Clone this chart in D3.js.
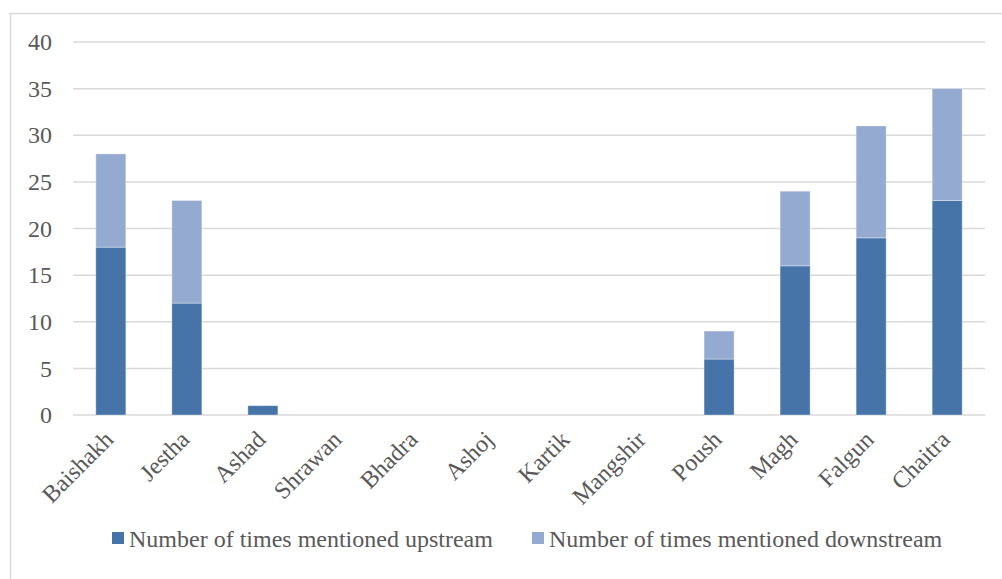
<!DOCTYPE html>
<html>
<head>
<meta charset="utf-8">
<script src="https://cdn.jsdelivr.net/npm/d3@7/dist/d3.min.js"></script>
<style>
  html, body { margin: 0; padding: 0; background: #fff; }
  svg { display: block; }
</style>
</head>
<body>
<svg id="chart" width="1002" height="579"></svg>
<script>
// Nepali months and mention counts
const months = ["Baishakh", "Jestha", "Ashad", "Shrawan", "Bhadra", "Ashoj",
                "Kartik", "Mangshir", "Poush", "Magh", "Falgun", "Chaitra"];
const upstream   = [18, 12, 1, 0, 0, 0, 0, 0, 6, 16, 19, 23];
const downstream = [10, 11, 0, 0, 0, 0, 0, 0, 3, 8, 12, 12];
const seriesNames = ["Number of times mentioned upstream", "Number of times mentioned downstream"];
const seriesColors = ["#4674a8", "#95aad1"];
const yTicks = [0, 5, 10, 15, 20, 25, 30, 35, 40];

const FONT = '"Liberation Serif", "Times New Roman", serif';
const FONT_SIZE = 24;
const TEXT_COLOR = "#595959";

const svg = d3.select("#chart");
const W = 1002, H = 579;
const margin = { left: 73, right: 1002 - 985, top: 42, bottom: 579 - 415 };

// chart frame (extends past the bottom/right of the view)
svg.append("rect")
  .attr("x", 10.5).attr("y", 13.5)
  .attr("width", 1200).attr("height", 800)
  .attr("fill", "none").attr("stroke", "#d9d9d9").attr("stroke-width", 1.5);

const x = d3.scaleBand()
  .domain(months)
  .range([margin.left, W - margin.right])
  .paddingInner(0.605)
  .paddingOuter(0.3);

const y = d3.scaleLinear()
  .domain([0, 40])
  .range([H - margin.bottom, margin.top]);

// gridlines
svg.append("g")
  .selectAll("line")
  .data(yTicks)
  .join("line")
  .attr("x1", margin.left).attr("x2", W - margin.right)
  .attr("y1", d => y(d)).attr("y2", d => y(d))
  .attr("stroke", "#d9d9d9").attr("stroke-width", 1.5);

// y axis labels
const yAxis = d3.axisLeft(y).tickValues(yTicks).tickSize(0).tickPadding(21);
const yg = svg.append("g").attr("transform", `translate(${margin.left},0)`).call(yAxis);
yg.attr("font-family", FONT).attr("font-size", FONT_SIZE);
yg.select(".domain").remove();
yg.selectAll("text").attr("fill", TEXT_COLOR);

// stacked bars
const rows = months.map((m, i) => ({ month: m, up: upstream[i], down: downstream[i] }));
const stack = d3.stack().keys(["up", "down"])(rows);

svg.append("g")
  .selectAll("g")
  .data(stack)
  .join("g")
  .attr("fill", (d, i) => seriesColors[i])
  .selectAll("rect")
  .data(d => d.filter(s => s[1] - s[0] > 0))
  .join("rect")
  .attr("x", d => x(d.data.month))
  .attr("width", x.bandwidth())
  .attr("y", d => y(d[1]))
  .attr("height", d => y(d[0]) - y(d[1]))
  .attr("stroke", "#ffffff").attr("stroke-opacity", 0.35).attr("stroke-width", 1);

// x axis labels, rotated
const xAxis = d3.axisBottom(x).tickSize(0).tickPadding(0);
const xg = svg.append("g").attr("transform", `translate(0,${y(0)})`).call(xAxis);
xg.attr("font-family", FONT).attr("font-size", FONT_SIZE);
xg.select(".domain").remove();
xg.selectAll("text")
  .attr("fill", TEXT_COLOR)
  .attr("text-anchor", "end")
  .attr("dy", null)
  .attr("y", 0)
  .attr("transform", "translate(4,26) rotate(-45)");

// legend
const legendItems = [
  { name: seriesNames[0], color: seriesColors[0], x: 112 },
  { name: seriesNames[1], color: seriesColors[1], x: 532 }
];
const lg = svg.append("g").attr("font-family", FONT).attr("font-size", FONT_SIZE);
legendItems.forEach(d => {
  lg.append("rect").attr("x", d.x).attr("y", 532).attr("width", 12).attr("height", 12).attr("fill", d.color);
  lg.append("text").attr("x", d.x + 17).attr("y", 547)
    .attr("fill", TEXT_COLOR).text(d.name);
});
</script>
</body>
</html>
